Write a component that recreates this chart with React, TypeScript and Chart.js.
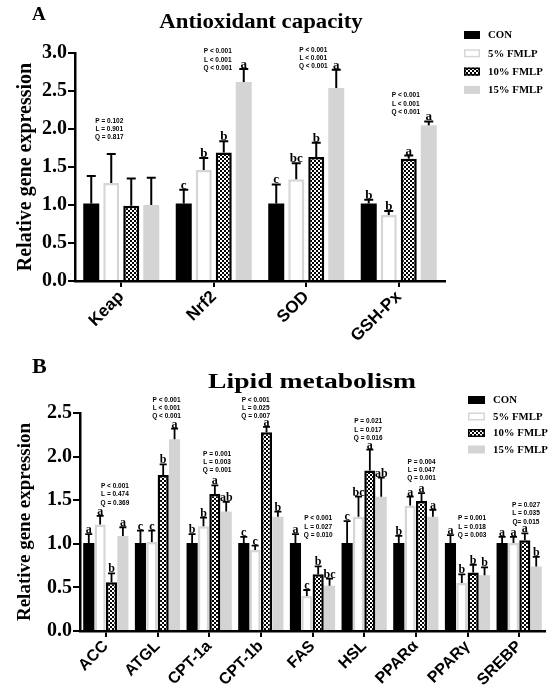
import React, { useEffect, useRef } from 'react';
import { Chart, registerables } from 'chart.js';
Chart.register(...registerables);

const SERIES = ['CON', '5% FMLP', '10% FMLP', '15% FMLP'];

// ---- panel A: antioxidant capacity ----
const genesA = ['Keap', 'Nrf2', 'SOD', 'GSH-Px'];
const conA = [1.02, 1.02, 1.02, 1.02];
const fmlp5A = [1.29, 1.46, 1.34, 0.87];
const fmlp10A = [0.99, 1.69, 1.63, 1.61];
const fmlp15A = [1.0, 2.62, 2.54, 2.05];
const conErrA = [0.36, 0.18, 0.25, 0.05];
const fmlp5ErrA = [0.38, 0.16, 0.21, 0.05];
const fmlp10ErrA = [0.36, 0.15, 0.19, 0.04];
const fmlp15ErrA = [0.36, 0.17, 0.24, 0.05];
const conSigA = ['', 'c', 'c', 'b'];
const fmlp5SigA = ['', 'b', 'bc', 'b'];
const fmlp10SigA = ['', 'b', 'b', 'a'];
const fmlp15SigA = ['', 'a', 'a', 'a'];
const statsA = [
  ['P = 0.102', 'L = 0.901', 'Q = 0.817'],
  ['P < 0.001', 'L < 0.001', 'Q < 0.001'],
  ['P < 0.001', 'L < 0.001', 'Q < 0.001'],
  ['P < 0.001', 'L < 0.001', 'Q < 0.001'],
];
const yTicksA = [0, 0.5, 1.0, 1.5, 2.0, 2.5, 3.0];

// ---- panel B: lipid metabolism ----
const genesB = ['ACC', 'ATGL', 'CPT-1a', 'CPT-1b', 'FAS', 'HSL', 'PPARα', 'PPARγ', 'SREBP'];
const conB = [1.01, 1.01, 1.01, 1.01, 1.01, 1.01, 1.01, 1.01, 1.01];
const fmlp5B = [1.22, 1.02, 1.2, 0.93, 0.4, 1.31, 1.44, 0.55, 1.01];
const fmlp10B = [0.56, 1.79, 1.57, 2.28, 0.65, 1.84, 1.49, 0.67, 1.04];
const fmlp15B = [1.09, 2.2, 1.37, 1.31, 0.52, 1.54, 1.31, 0.64, 0.74];
const conErrB = [0.1, 0.14, 0.1, 0.07, 0.1, 0.25, 0.08, 0.09, 0.07];
const fmlp5ErrB = [0.1, 0.13, 0.1, 0.05, 0.07, 0.23, 0.1, 0.1, 0.07];
const fmlp10ErrB = [0.1, 0.12, 0.1, 0.06, 0.09, 0.24, 0.09, 0.09, 0.08];
const fmlp15ErrB = [0.1, 0.12, 0.11, 0.06, 0.08, 0.22, 0.08, 0.09, 0.11];
const conSigB = ['a', 'c', 'b', 'c', 'a', 'c', 'b', 'a', 'a'];
const fmlp5SigB = ['a', 'c', 'b', 'c', 'c', 'bc', 'a', 'b', 'a'];
const fmlp10SigB = ['b', 'b', 'a', 'a', 'b', 'a', 'a', 'b', 'a'];
const fmlp15SigB = ['a', 'a', 'ab', 'b', 'bc', 'ab', 'a', 'b', 'b'];
const statsB = [
  ['P < 0.001', 'L = 0.474', 'Q = 0.369'],
  ['P < 0.001', 'L < 0.001', 'Q < 0.001'],
  ['P = 0.001', 'L = 0.003', 'Q = 0.001'],
  ['P < 0.001', 'L = 0.025', 'Q = 0.007'],
  ['P < 0.001', 'L = 0.027', 'Q = 0.010'],
  ['P = 0.021', 'L = 0.017', 'Q = 0.016'],
  ['P = 0.004', 'L = 0.047', 'Q = 0.001'],
  ['P = 0.001', 'L = 0.018', 'Q = 0.003'],
  ['P = 0.027', 'L = 0.035', 'Q= 0.015'],
];
const yTicksB = [0, 0.5, 1.0, 1.5, 2.0, 2.5];

// where the P/L/Q notes sit: [shift from group centre in bar slots, value of last line]
const noteSpotA = [[-0.6, 1.89], [0.2, 2.8], [0.35, 2.82], [0.35, 2.22]];
const noteSpotB = [
  [0.8, 1.47], [0.8, 2.46], [0.7, 1.84], [-0.45, 2.46], [0.5, 1.1],
  [0.35, 2.21], [0.5, 1.75], [0.4, 1.1], [0.6, 1.25],
];

const SERIF = '"Liberation Serif", "Times New Roman", serif';
const SANS = '"Liberation Sans", Arial, sans-serif';

type Series = { values: number[]; errs: number[]; sig: string[] };

type PanelCfg = {
  letter: string;
  title: string;
  labels: string[];
  series: Series[];
  stats: string[][];
  noteSpot: number[][];
  yTicks: number[];
  height: number;
  padTop: number;
  padRight: number;
  yWidth: number;
  xHeight: number;
  catPct: number;
  barPct: number;
  tickFont: number;
  xFont: number;
  yTitleFont: number;
  yTitlePad: number;
  panelFont: number;
  panelBase: number;
  titleX: number;
  titleBase: number;
  titleStretch: number;
  sigFont: number;
  cap: number;
  errWidth: number;
  border: number;
  legend: { x: number; y: number; step: number; w: number; h: number; font: number };
};

const panelA: PanelCfg = {
  letter: 'A',
  title: 'Antioxidant capacity',
  labels: genesA,
  series: [
    { values: conA, errs: conErrA, sig: conSigA },
    { values: fmlp5A, errs: fmlp5ErrA, sig: fmlp5SigA },
    { values: fmlp10A, errs: fmlp10ErrA, sig: fmlp10SigA },
    { values: fmlp15A, errs: fmlp15ErrA, sig: fmlp15SigA },
  ],
  stats: statsA,
  noteSpot: noteSpotA,
  yTicks: yTicksA,
  height: 342,
  padTop: 53,
  padRight: 105,
  yWidth: 75,
  xHeight: 61,
  catPct: 0.865,
  barPct: 0.8,
  tickFont: 20,
  xFont: 17,
  yTitleFont: 20,
  yTitlePad: 14,
  panelFont: 19,
  panelBase: 20,
  titleX: 261,
  titleBase: 28,
  titleStretch: 1.14,
  sigFont: 13,
  cap: 4.5,
  errWidth: 2,
  border: 2.5,
  legend: { x: 464, y: 35, step: 18.3, w: 16, h: 8, font: 10.8 },
};

const panelB: PanelCfg = {
  letter: 'B',
  title: 'Lipid metabolism',
  labels: genesB,
  series: [
    { values: conB, errs: conErrB, sig: conSigB },
    { values: fmlp5B, errs: fmlp5ErrB, sig: fmlp5SigB },
    { values: fmlp10B, errs: fmlp10ErrB, sig: fmlp10SigB },
    { values: fmlp15B, errs: fmlp15ErrB, sig: fmlp15SigB },
  ],
  stats: statsB,
  noteSpot: noteSpotB,
  yTicks: yTicksB,
  height: 351,
  padTop: 71,
  padRight: 5,
  yWidth: 80,
  xHeight: 62,
  catPct: 0.88,
  barPct: 0.98,
  tickFont: 20,
  xFont: 16,
  yTitleFont: 19,
  yTitlePad: 14,
  panelFont: 22,
  panelBase: 31,
  titleX: 312,
  titleBase: 46,
  titleStretch: 1.38,
  sigFont: 12,
  cap: 3.5,
  errWidth: 1.8,
  border: 2.5,
  legend: { x: 468, y: 58, step: 16.5, w: 17, h: 8, font: 10.8 },
};

function makeChecker(): CanvasPattern | string {
  const c = document.createElement('canvas');
  c.width = 4;
  c.height = 4;
  const g = c.getContext('2d');
  if (!g) return '#000';
  g.fillStyle = '#000';
  g.fillRect(0, 0, 4, 4);
  g.fillStyle = '#fff';
  g.fillRect(0, 0, 2, 2);
  g.fillRect(2, 2, 2, 2);
  return g.createPattern(c, 'repeat') || '#000';
}

const makeDecor = (p: PanelCfg) => ({
  id: 'decor' + p.letter,
  afterDatasetsDraw(chart: any) {
    const ctx: CanvasRenderingContext2D = chart.ctx;
    const xs = chart.scales.x;
    const ys = chart.scales.y;
    ctx.save();
    ctx.fillStyle = '#000';
    ctx.strokeStyle = '#000';

    // error bars + letters
    p.series.forEach((s, i) => {
      const meta = chart.getDatasetMeta(i);
      meta.data.forEach((bar: any, j: number) => {
        const top = ys.getPixelForValue(s.values[j] + s.errs[j]);
        ctx.lineWidth = p.errWidth;
        ctx.beginPath();
        ctx.moveTo(bar.x, bar.y);
        ctx.lineTo(bar.x, top);
        ctx.moveTo(bar.x - p.cap, top);
        ctx.lineTo(bar.x + p.cap, top);
        ctx.stroke();
        if (s.sig[j]) {
          ctx.font = `bold ${p.sigFont}px ${SERIF}`;
          ctx.textAlign = 'center';
          ctx.textBaseline = 'alphabetic';
          ctx.fillText(s.sig[j], bar.x, top - 1);
        }
      });
    });

    // P / L / Q notes
    const m0 = chart.getDatasetMeta(0);
    const m1 = chart.getDatasetMeta(1);
    ctx.font = `bold 6.5px ${SANS}`;
    ctx.textAlign = 'center';
    ctx.textBaseline = 'middle';
    p.stats.forEach((lines, g) => {
      const slot = m1.data[g].x - m0.data[g].x;
      const cx = xs.getPixelForValue(g) + p.noteSpot[g][0] * slot;
      const cy = ys.getPixelForValue(p.noteSpot[g][1]);
      lines.forEach((t, k) => ctx.fillText(t, cx, cy - (lines.length - 1 - k) * 8.3));
    });

    // panel letter and title
    ctx.textAlign = 'left';
    ctx.textBaseline = 'alphabetic';
    ctx.font = `bold ${p.panelFont}px ${SERIF}`;
    ctx.fillText(p.letter, 32, p.panelBase);
    ctx.save();
    ctx.translate(p.titleX, p.titleBase);
    ctx.scale(p.titleStretch, 1);
    ctx.font = `bold 20px ${SERIF}`;
    ctx.textAlign = 'center';
    ctx.fillText(p.title, 0, 0);
    ctx.restore();

    // legend
    const L = p.legend;
    chart.data.datasets.forEach((ds: any, i: number) => {
      const cy = L.y + i * L.step;
      const bx = L.x;
      const by = cy - L.h / 2;
      ctx.fillStyle = ds.backgroundColor;
      ctx.fillRect(bx, by, L.w, L.h);
      if (ds.borderWidth > 0) {
        ctx.lineWidth = 1.5;
        ctx.strokeStyle = ds.borderColor;
        ctx.strokeRect(bx + 0.75, by + 0.75, L.w - 1.5, L.h - 1.5);
      }
      ctx.fillStyle = '#000';
      ctx.font = `bold ${L.font}px ${SERIF}`;
      ctx.textAlign = 'left';
      ctx.textBaseline = 'middle';
      ctx.fillText(ds.label, L.x + L.w + 8, cy + 0.5);
    });
    ctx.restore();
  },
});

const Panel: React.FC<{ cfg: PanelCfg }> = ({ cfg }) => {
  const ref = useRef<HTMLCanvasElement>(null);

  useEffect(() => {
    if (!ref.current) return;
    const checker = makeChecker();
    const looks = [
      { backgroundColor: '#000', borderColor: '#000', borderWidth: 0 },
      { backgroundColor: '#fff', borderColor: '#d6d6d6', borderWidth: cfg.border },
      { backgroundColor: checker, borderColor: '#000', borderWidth: cfg.border },
      { backgroundColor: '#d4d4d4', borderColor: '#d4d4d4', borderWidth: 0 },
    ];
    const ticks = cfg.yTicks;
    const chart = new Chart(ref.current, {
      type: 'bar',
      data: {
        labels: cfg.labels,
        datasets: cfg.series.map((s, i) => ({
          label: SERIES[i],
          data: s.values,
          ...looks[i],
          categoryPercentage: cfg.catPct,
          barPercentage: cfg.barPct,
        })),
      },
      options: {
        responsive: false,
        animation: false,
        layout: { padding: { top: cfg.padTop, right: cfg.padRight, left: 0, bottom: 0 } },
        plugins: {
          legend: { display: false },
          title: { display: false },
          tooltip: { enabled: false },
        },
        scales: {
          x: {
            grid: {
              display: true,
              drawOnChartArea: false,
              drawTicks: true,
              offset: false,
              tickLength: 6,
              lineWidth: 2,
              color: '#000',
            },
            border: { display: true, color: '#000', width: cfg.border },
            ticks: {
              color: '#000',
              font: { family: SANS, size: cfg.xFont, weight: 'bold' },
              minRotation: 45,
              maxRotation: 45,
              padding: 0,
            },
            afterFit: (s: any) => {
              s.height = cfg.xHeight;
            },
          },
          y: {
            min: 0,
            max: ticks[ticks.length - 1],
            grid: {
              display: true,
              drawOnChartArea: false,
              drawTicks: true,
              tickLength: 7,
              lineWidth: 2,
              color: '#000',
            },
            border: { display: true, color: '#000', width: cfg.border },
            afterBuildTicks: (s: any) => {
              s.ticks = ticks.map((v) => ({ value: v }));
            },
            ticks: {
              color: '#000',
              padding: 1,
              font: { family: SERIF, size: cfg.tickFont, weight: 'bold' },
              callback: (v: any) => Number(v).toFixed(1),
            },
            title: {
              display: true,
              text: 'Relative gene expression',
              color: '#000',
              font: { family: SERIF, size: cfg.yTitleFont, weight: 'bold' },
              padding: { top: cfg.yTitlePad, bottom: 0 },
            },
            afterFit: (s: any) => {
              s.width = cfg.yWidth;
            },
          },
        },
      },
      plugins: [makeDecor(cfg)],
    });
    return () => chart.destroy();
  }, [cfg]);

  return <canvas ref={ref} width={550} height={cfg.height} style={{ display: 'block' }} />;
};

export default function App() {
  useEffect(() => {
    document.body.style.margin = '0';
    document.body.style.background = '#fff';
  }, []);
  return (
    <div style={{ width: 550, background: '#fff' }}>
      <Panel cfg={panelA} />
      <Panel cfg={panelB} />
    </div>
  );
}
